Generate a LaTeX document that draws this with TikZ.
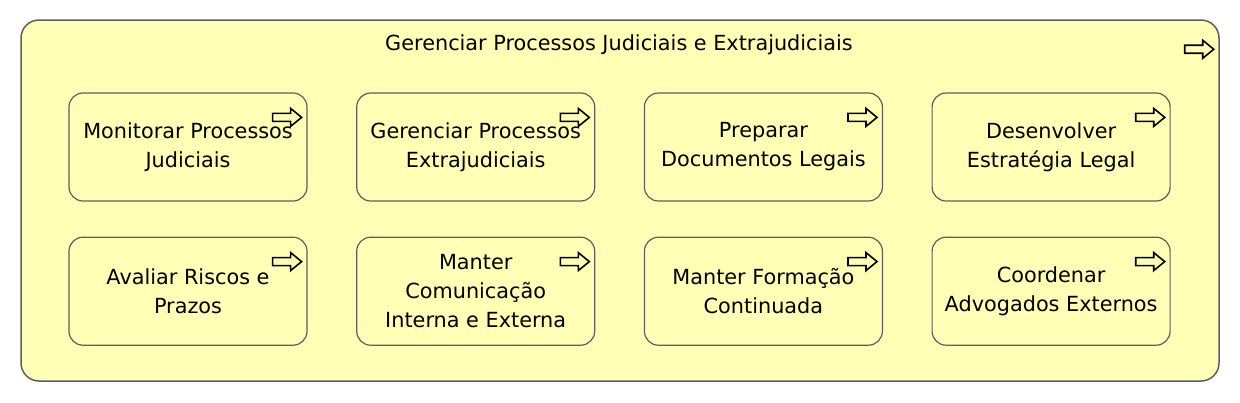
\documentclass[tikz,border=0pt]{standalone}
\usepackage{fontspec}
\setmainfont{DejaVu Sans}
\usepackage{xcolor}
\usetikzlibrary{positioning}
\definecolor{bizyellow}{HTML}{FFFFB5}
\definecolor{edgegray}{HTML}{5E5E5E}

\begin{document}
\begin{tikzpicture}[
    x=1pt, y=-1pt,
    process/.style={rectangle, rounded corners=14pt, draw=edgegray, line width=1.2pt, fill=bizyellow, minimum width=238pt, minimum height=108pt, inner sep=0pt, font=\fontsize{20.8}{29}\selectfont, align=center},
    container/.style={rectangle, rounded corners=18pt, draw=edgegray, line width=1.5pt, fill=bizyellow, minimum width=1198pt, minimum height=361pt, inner sep=0pt},
    procarrow/.pic={\draw[line width=1.6pt, line join=miter] (0,5) -- (18,5) -- (18,0) -- (29,9) -- (18,18) -- (18,13) -- (0,13) -- cycle;},
    node distance=35pt and 48.5pt
]
\useasboundingbox (0,0) rectangle (1240,402);

\node[container] (frame) at (620,200.5) {};
\node[font=\fontsize{20.8}{29}\selectfont] (title) at (619,45) {Gerenciar Processos Judiciais e Extrajudiciais};

\node[process] (monitor) at (188,147) {Monitorar Processos\\Judiciais};
\node[process, right=of monitor] (extra) {Gerenciar Processos\\Extrajudiciais};
\node[process, right=of extra] (docs) {Preparar\\Documentos Legais};
\node[process, right=of docs] (strategy) {Desenvolver\\Estratégia Legal};
\node[process, below=of monitor] (risks) {Avaliar Riscos e\\Prazos};
\node[process, right=of risks] (comms) {Manter\\Comunicação\\Interna e Externa};
\node[process, right=of comms] (training) {Manter Formação\\Continuada};
\node[process, right=of training] (lawyers) {Coordenar\\Advogados Externos};

\pic at ([xshift=-35pt, yshift=-21pt]frame.north east) {procarrow};
\foreach \n in {monitor,extra,docs,strategy,risks,comms,training,lawyers}
    \pic at ([xshift=-35pt, yshift=-16pt]\n.north east) {procarrow};

\end{tikzpicture}
\end{document}
